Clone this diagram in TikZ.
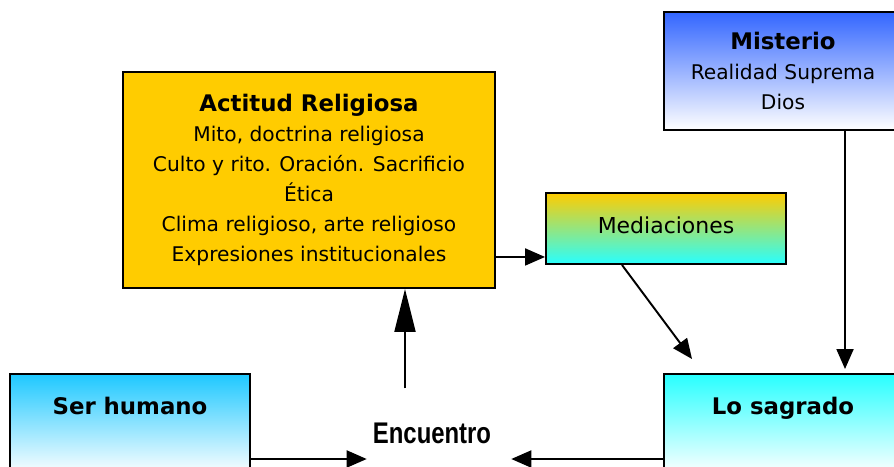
\documentclass[tikz,border=0pt]{standalone}
\usepackage{fontspec}
\setmainfont{DejaVu Sans}
\newfontfamily\encfont[FakeStretch=0.8]{Liberation Sans}
\usetikzlibrary{positioning,calc,arrows.meta}
\definecolor{myyellow}{RGB}{255, 204, 0}
\definecolor{myblue}{RGB}{51, 102, 255}
\definecolor{mysky}{RGB}{30, 200, 255}
\definecolor{mycyan}{RGB}{40, 255, 255}
\tikzstyle{box}=[draw,line width=1.1pt,align=center,font=\fontsize{11.5}{17}\selectfont]
\tikzstyle{wide}=[box,minimum width=4.8cm]
\tikzstyle{title}=[font=\fontsize{13}{17}\selectfont\bfseries]
\tikzstyle{arr}=[-{Triangle[length=0.4cm,width=0.34cm]},line width=1.1pt]
\tikzstyle{bigarr}=[-{Triangle[length=0.86cm,width=0.42cm]},line width=1.1pt]

\begin{document}
\begin{tikzpicture}
      \useasboundingbox (0,0) rectangle (17.88,-9.32);
      \clip (0,0) rectangle (17.88,-9.32);

      \node (actitud) at (6.18,-3.6) [box, fill=myyellow, minimum width=7.44cm, minimum height=4.32cm]
        {{\bfseries\fontsize{13}{17}\selectfont Actitud Religiosa}\\
         Mito, doctrina religiosa\\
         Culto y rito. Oración. Sacrificio\\
         Ética\\
         Clima religioso, arte religioso\\
         Expresiones institucionales};
      \node (misterio) at (15.66,-1.42) [box, minimum width=4.76cm, minimum height=2.36cm, top color=myblue, bottom color=white]
        {{\bfseries\fontsize{13}{17}\selectfont Misterio}\\
         Realidad Suprema\\
         Dios};
      \node (medi) at (13.32,-4.57) [wide, minimum height=1.42cm, top color=myyellow, bottom color=mycyan,
        font=\fontsize{12.5}{17}\selectfont] {\raisebox{0.12cm}{Mediaciones}};

      \node (ser) at (2.6,-8.49) [wide, minimum height=2.02cm, top color=mysky, bottom color=white] {};
      \node (serlbl) [title, below=0.36cm of ser.north] {Ser humano};
      \node (sagrado) at (15.66,-8.49) [box, minimum width=4.76cm, minimum height=2.02cm, top color=mycyan, bottom color=white] {};
      \node (sagradolbl) [title, below=0.36cm of sagrado.north] {Lo sagrado};

      \node (enc) at (8.64,-8.66) [font=\encfont\fontsize{17}{20}\selectfont\bfseries] {Encuentro};
      \coordinate (low) at (0,-9.18);

      \draw[arr] ([yshift=0.16cm]actitud.east |- medi.south) -- ([yshift=0.16cm]medi.south west);
      \draw[arr] ([xshift=-0.88cm]medi.south) -- ([xshift=0.58cm,yshift=0.28cm]sagrado.north west);
      \draw[arr] ([xshift=1.24cm]misterio.south) -- ([xshift=1.24cm,yshift=0.08cm]misterio.south |- sagrado.north);
      \draw[bigarr] ([xshift=-0.54cm,yshift=0.56cm]enc.north) -- ([xshift=-0.54cm]enc.north |- actitud.south);
      \draw[arr] (ser.east |- low) -- (enc.west |- low);
      \draw[arr, shorten >=0.28cm] (sagrado.west |- low) -- (enc.east |- low);
\end{tikzpicture}
\end{document}
